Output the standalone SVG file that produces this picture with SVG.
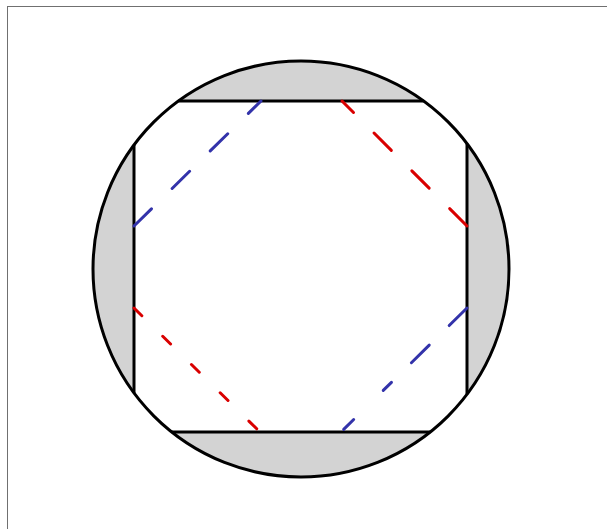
<svg xmlns="http://www.w3.org/2000/svg" width="607" height="529" viewBox="0 0 607 529">
<style>
.seg{fill:#d3d3d3;stroke:none}
.edge{stroke:#000;stroke-width:3;fill:none;stroke-linecap:butt}
.dash{stroke-width:3;fill:none;stroke-linecap:round}
.blue{stroke:#3333aa}
.red{stroke:#d90000}
</style>
<rect x="0" y="0" width="607" height="529" fill="#fff"/>
<rect x="7.5" y="6.5" width="700" height="600" fill="none" stroke="#707070" stroke-width="1"/>
<g id="segments">
<path class="seg" d="M178.4,101 A208,208 0 0 1 423.6,101 Z"/>
<path class="seg" d="M430.2,432 A208,208 0 0 1 171.8,432 Z"/>
<path class="seg" d="M134,393 A208,208 0 0 1 134,145 Z"/>
<path class="seg" d="M467,143.7 A208,208 0 0 1 467,394.3 Z"/>
</g>
<g id="circle">
<circle cx="301" cy="269" r="208" class="edge"/>
</g>
<g id="chords">
<line class="edge" x1="178.4" y1="101" x2="423.6" y2="101"/>
<line class="edge" x1="171.8" y1="432" x2="430.2" y2="432"/>
<line class="edge" x1="134" y1="145" x2="134" y2="393"/>
<line class="edge" x1="467" y1="143.7" x2="467" y2="394.3"/>
</g>
<g id="connectors">
<line class="dash blue" x1="134" y1="226" x2="261" y2="101" stroke-dasharray="24.5 29"/>
<line class="dash red" x1="467" y1="226" x2="342" y2="101" stroke-dasharray="24.5 29"/>
<line class="dash red" x1="134" y1="308" x2="260" y2="432" stroke-dasharray="11 29.3"/>
<line class="dash blue" x1="467" y1="308" x2="341" y2="432" stroke-dasharray="25 28 25 28 11.5 41.5 14 40"/>
</g>
</svg>
